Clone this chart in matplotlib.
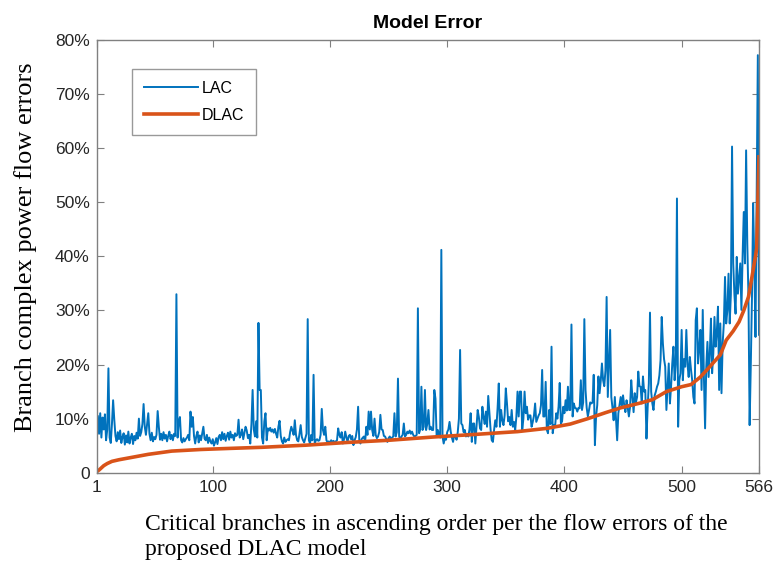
import matplotlib
matplotlib.use('Agg')
import matplotlib.pyplot as plt
import numpy as np

# LAC flow error (%) for each critical branch
lac_error = [
    6.0, 10.5, 7.2, 11.0, 6.5, 10.2, 8.0, 10.8, 6.0, 8.0,
    19.3, 6.5, 5.5, 9.0, 13.4, 9.8, 6.8, 5.8, 7.5, 6.2,
    7.8, 5.5, 6.6, 7.3, 5.2, 6.9, 5.6, 7.6, 5.4, 6.5,
    7.2, 5.3, 6.8, 6.0, 7.4, 6.3, 10.0, 6.8, 7.5, 9.0,
    12.7, 8.5, 7.0, 9.0, 11.0, 7.2, 6.0, 7.4, 5.8, 6.6,
    6.2, 7.0, 11.4, 8.5, 6.1, 7.2, 6.0, 7.5, 6.3, 7.0,
    5.8, 6.8, 7.6, 6.2, 7.0, 6.0, 7.2, 6.8, 33.0, 6.5,
    9.5, 10.3, 6.0, 5.6, 6.4, 5.8, 6.2, 6.5, 7.0, 6.0,
    11.3, 8.5, 10.3, 6.8, 5.4, 6.8, 7.6, 5.6, 6.9, 6.0,
    7.2, 8.5, 6.3, 6.0, 7.0, 5.5, 6.5, 5.8, 5.4, 6.2,
    5.0, 5.6, 6.4, 5.3, 6.6, 7.0, 6.0, 7.5, 6.2, 7.2,
    5.9, 6.8, 7.4, 6.1, 7.6, 6.5, 7.0, 6.0, 7.3, 6.8,
    7.0, 9.8, 6.5, 7.0, 8.0, 6.2, 7.4, 8.5, 7.8, 6.4,
    7.0, 5.4, 9.0, 15.3, 8.0, 6.7, 9.5, 6.5, 27.7, 15.3,
    15.3, 6.5, 5.4, 9.5, 11.0, 6.0, 8.2, 7.8, 8.3, 7.6,
    8.0, 7.4, 8.1, 7.2, 6.5, 8.5, 9.6, 6.8, 5.8, 5.4,
    6.5, 5.7, 6.0, 6.2, 6.0, 7.5, 8.5, 7.8, 7.0, 9.7,
    7.0, 6.0, 5.8, 7.2, 8.8, 6.6, 6.0, 5.6, 6.4, 7.2,
    28.4, 6.0, 5.4, 7.0, 6.0, 18.1, 5.4, 6.0, 6.2, 5.9,
    6.0, 7.0, 11.8, 7.9, 7.0, 8.5, 6.0, 5.6, 5.8, 5.5,
    6.0, 5.7, 5.9, 5.6, 5.8, 6.0, 8.2, 7.0, 6.5, 7.5,
    5.4, 6.2, 7.6, 6.5, 5.7, 6.8, 7.0, 6.2, 6.8, 5.1,
    6.0, 6.6, 8.0, 12.2, 6.0, 5.4, 6.2, 6.5, 6.7, 5.7,
    8.5, 7.0, 11.3, 8.0, 11.3, 7.9, 6.8, 10.0, 7.0, 6.4,
    6.7, 7.5, 10.7, 8.0, 7.9, 6.8, 6.7, 6.2, 5.7, 6.4,
    6.7, 6.2, 6.5, 6.7, 11.0, 6.7, 7.5, 17.4, 6.7, 6.2,
    6.7, 7.0, 9.1, 6.7, 7.0, 7.6, 7.3, 7.8, 7.2, 7.6,
    7.0, 6.7, 6.8, 7.0, 30.4, 7.3, 8.0, 15.9, 7.9, 8.5,
    15.3, 7.9, 9.0, 11.6, 8.0, 8.5, 7.9, 7.9, 15.3, 13.7,
    6.7, 7.9, 7.0, 6.5, 41.2, 6.7, 5.4, 6.4, 6.1, 7.5,
    8.0, 9.4, 7.6, 6.5, 5.7, 7.0, 6.7, 6.1, 7.5, 10.0,
    22.7, 9.1, 8.8, 7.5, 7.9, 6.7, 7.2, 6.7, 8.0, 11.0,
    5.7, 9.1, 9.1, 5.4, 8.5, 11.6, 10.3, 8.2, 7.9, 12.2,
    10.3, 9.0, 11.3, 8.5, 14.2, 11.0, 8.0, 6.0, 5.7, 7.9,
    9.7, 8.5, 12.0, 16.5, 8.5, 11.6, 9.7, 8.8, 10.6, 15.6,
    12.8, 9.5, 10.3, 8.8, 11.6, 8.5, 9.4, 7.9, 10.3, 15.0,
    10.4, 15.0, 15.0, 7.9, 10.0, 15.0, 11.0, 12.2, 9.8, 10.6,
    10.6, 8.5, 9.4, 10.5, 12.8, 9.4, 10.0, 10.6, 11.0, 12.5,
    19.0, 10.4, 10.4, 16.8, 7.9, 7.3, 11.6, 9.0, 23.3, 7.3,
    8.8, 8.5, 11.0, 10.0, 12.2, 16.6, 9.1, 9.5, 12.2, 11.0,
    13.4, 11.5, 15.9, 11.6, 11.6, 27.4, 10.4, 12.8, 12.0, 11.9,
    11.3, 12.0, 11.9, 17.1, 11.6, 13.0, 28.4, 15.3, 12.0, 10.4,
    11.6, 13.0, 12.8, 13.0, 18.1, 5.1, 10.4, 12.5, 17.8, 14.7,
    17.0, 20.2, 17.1, 16.0, 18.9, 32.5, 14.0, 20.0, 26.4, 14.0,
    12.0, 9.7, 14.0, 10.0, 6.0, 11.0, 12.5, 14.0, 12.2, 14.3,
    12.5, 11.2, 13.4, 12.0, 10.4, 12.2, 17.1, 14.0, 11.2, 14.7,
    13.0, 14.0, 18.7, 16.0, 15.9, 12.8, 17.8, 15.0, 15.3, 6.3,
    12.0, 16.5, 29.6, 15.0, 12.8, 11.6, 14.3, 15.0, 15.9, 16.5,
    18.0, 20.8, 28.8, 23.9, 21.0, 19.6, 11.6, 16.0, 20.2, 12.8,
    16.0, 20.2, 23.3, 17.1, 20.0, 50.7, 8.5, 17.1, 18.4, 26.4,
    17.1, 21.0, 19.6, 26.4, 20.0, 17.7, 21.4, 19.0, 17.1, 14.0,
    12.8, 28.2, 30.4, 20.2, 23.0, 26.4, 15.3, 30.1, 17.7, 8.2,
    19.6, 24.2, 17.7, 22.0, 28.5, 18.4, 22.0, 28.8, 23.3, 26.0,
    30.7, 15.3, 27.6, 14.7, 24.0, 27.6, 36.2, 27.6, 30.0, 36.8,
    27.6, 33.0, 60.3, 38.7, 33.0, 29.4, 39.9, 33.1, 36.0, 38.7,
    30.1, 40.0, 48.2, 38.7, 59.6, 42.4, 32.5, 8.8, 20.0, 32.5,
    49.8, 38.7, 25.1, 51.0, 77.2, 25.5,
]

# DLAC error (%) read at selected branch indices (sorted ascending)
dlac_branch = [1, 3, 5, 7, 10, 14, 20, 30, 45, 65, 90, 115, 142, 180, 215,
               250, 288, 325, 360, 385, 405, 420, 435, 448, 465, 475, 487,
               500, 508, 516, 524, 533, 538, 544, 549, 553, 557, 560, 563,
               564, 565, 566]
dlac_error = [0.2, 0.5, 0.9, 1.3, 1.7, 2.1, 2.4, 2.8, 3.4, 4.0, 4.3, 4.5,
              4.7, 5.1, 5.6, 6.0, 6.6, 7.1, 7.6, 8.2, 9.0, 10.0, 11.1, 12.0,
              12.9, 13.5, 15.0, 15.9, 16.3, 17.7, 19.6, 21.8, 24.5, 26.2,
              27.9, 30.0, 32.5, 36.2, 40.0, 41.5, 50.0, 58.4]

x_ticks = [1, 100, 200, 300, 400, 500, 566]
y_ticks = [0, 10, 20, 30, 40, 50, 60, 70, 80]
y_ticklabels = ['0'] + ['%d%%' % v for v in y_ticks[1:]]

SANS = ['Liberation Sans', 'DejaVu Sans']
SERIF = ['Liberation Serif', 'DejaVu Serif']
AXIS_GREY = '#808080'
TEXT_GREY = '#262626'

fig = plt.figure(figsize=(7.73, 5.66), dpi=100)
ax = fig.add_axes([0.1251, 0.1648, 0.8568, 0.7645])

branch = np.arange(1, len(lac_error) + 1)
ax.plot(branch, lac_error, color='#0072BD', lw=1.4, label='LAC')
ax.plot(dlac_branch, dlac_error, color='#D95319', lw=2.6, label='DLAC')

ax.set_xlim(1, 566)
ax.set_ylim(0, 80)
ax.set_xticks(x_ticks)
ax.set_yticks(y_ticks)
ax.set_yticklabels(y_ticklabels)
for lab in ax.get_xticklabels() + ax.get_yticklabels():
	lab.set_family(SANS)
	lab.set_fontsize(12.5)
	lab.set_color(TEXT_GREY)
ax.tick_params(direction='in', length=5, width=0.8, color=AXIS_GREY,
               top=True, right=True, pad=5)
for sp in ax.spines.values():
	sp.set_color(AXIS_GREY)
	sp.set_linewidth(1.0)

ax.set_title('Model Error', family=SANS, fontsize=14, fontweight='bold',
             color='black', pad=9)

fig.text(0.033, 0.564, 'Branch complex power flow errors', family=SERIF,
         fontsize=19, rotation=90, ha='center', va='center')
fig.text(0.188, 0.051, 'Critical branches in ascending order per the flow '
         'errors of the\nproposed DLAC model', family=SERIF, fontsize=17,
         ha='left', va='center', linespacing=1.22)

leg = ax.legend(loc='upper left', bbox_to_anchor=(0.0528, 0.933),
                borderaxespad=0, fancybox=False, handlelength=3.4,
                handletextpad=0.25, labelspacing=0.75, borderpad=0.75,
                prop={'family': SANS, 'size': 11.5})
leg.get_frame().set_edgecolor(AXIS_GREY)
leg.get_frame().set_linewidth(1.0)

fig.savefig('out.png', dpi=100)
